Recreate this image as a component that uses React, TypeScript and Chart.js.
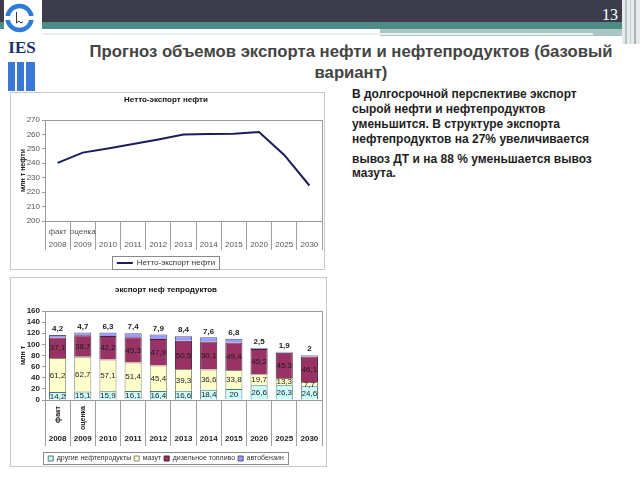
import React, { useEffect, useRef } from 'react';
import { Chart, registerables } from 'chart.js';

Chart.register(...registerables);

const FONT = '"Liberation Sans", Arial, sans-serif';

const years = ['2008', '2009', '2010', '2011', '2012', '2013', '2014', '2015', '2020', '2025', '2030'];
const yearNotes = ['факт', 'оценка', '', '', '', '', '', '', '', '', ''];

const netExport = [240.3, 247.4, 250.3, 253.3, 256.5, 259.9, 260.3, 260.5, 261.6, 245.8, 224.6];

const otherProducts = [14.2, 15.1, 15.9, 16.1, 16.4, 16.6, 18.4, 20, 26.6, 26.3, 24.6];
const fuelOil = [61.2, 62.7, 57.1, 51.4, 45.4, 39.3, 36.6, 33.8, 19.7, 13.3, 7.7];
const diesel = [37.1, 38.7, 42.2, 45.3, 47.9, 50.5, 50.1, 49.4, 45.2, 45.3, 46.1];
const gasoline = [4.2, 4.7, 6.3, 7.4, 7.9, 8.4, 7.6, 6.8, 2.5, 1.9, 2];

const seriesNames = ['другие нефтепродукты', 'мазут', 'дизельное топливо', 'автобензин'];

const textLines = [
  { t: 'В долгосрочной перспективе экспорт', y: 87 },
  { t: 'сырой нефти и нефтепродуктов', y: 102 },
  { t: 'уменьшится. В структуре экспорта', y: 117 },
  { t: 'нефтепродуктов на 27% увеличивается', y: 132 },
  { t: 'вывоз ДТ и на 88 % уменьшается вывоз', y: 152 },
  { t: 'мазута.', y: 166 },
];

const framePlugin = {
  id: 'frame',
  beforeDatasetsDraw(chart: any) {
    const { ctx, chartArea } = chart;
    ctx.save();
    ctx.strokeStyle = '#9a9a9a';
    ctx.lineWidth = 1;
    ctx.strokeRect(
      Math.round(chartArea.left) + 0.5,
      Math.round(chartArea.top) + 0.5,
      Math.round(chartArea.right - chartArea.left),
      Math.round(chartArea.bottom - chartArea.top)
    );
    ctx.restore();
  },
};

const legendBorderPlugin = {
  id: 'legendBorder',
  afterDraw(chart: any) {
    const boxes = chart.legend && chart.legend.legendHitBoxes;
    if (!boxes || !boxes.length) return;
    let l = Infinity, t = Infinity, r = -Infinity, b = -Infinity;
    boxes.forEach((h: any) => {
      l = Math.min(l, h.left);
      t = Math.min(t, h.top);
      r = Math.max(r, h.left + h.width);
      b = Math.max(b, h.top + h.height);
    });
    const ctx = chart.ctx;
    ctx.save();
    ctx.strokeStyle = '#8a8a8a';
    ctx.lineWidth = 1;
    ctx.strokeRect(Math.round(l - 5) + 0.5, Math.round(t - 3) + 0.5, Math.round(r - l + 9), Math.round(b - t + 5));
    ctx.restore();
  },
};

const lineCatsPlugin = {
  id: 'lineCats',
  afterDraw(chart: any) {
    const { ctx, chartArea } = chart;
    const xs = chart.scales.x;
    ctx.save();
    ctx.fillStyle = '#555';
    ctx.font = `8px ${FONT}`;
    ctx.textAlign = 'center';
    ctx.textBaseline = 'middle';
    years.forEach((yr, i) => {
      const x = xs.getPixelForValue(i);
      if (yearNotes[i]) ctx.fillText(yearNotes[i], x, chartArea.bottom + 11);
      ctx.fillText(yr, x, chartArea.bottom + 24);
    });
    ctx.restore();
  },
};

const barCatsPlugin = {
  id: 'barCats',
  afterDraw(chart: any) {
    const { ctx, chartArea } = chart;
    const xs = chart.scales.x;
    ctx.save();
    ctx.fillStyle = '#222';
    years.forEach((yr, i) => {
      const x = xs.getPixelForValue(i);
      if (yearNotes[i]) {
        ctx.save();
        ctx.font = `bold 7px ${FONT}`;
        ctx.translate(x, chartArea.bottom + 6);
        ctx.rotate(-Math.PI / 2);
        ctx.textAlign = 'right';
        ctx.textBaseline = 'middle';
        ctx.fillText(yearNotes[i], 0, 0);
        ctx.restore();
      }
      ctx.font = `bold 8px ${FONT}`;
      ctx.textAlign = 'center';
      ctx.textBaseline = 'middle';
      ctx.fillText(yr, x, chartArea.bottom + 39);
    });
    ctx.restore();
  },
};

const barLabelsPlugin = {
  id: 'barLabels',
  afterDatasetsDraw(chart: any) {
    const ctx = chart.ctx;
    ctx.save();
    ctx.textAlign = 'center';
    ctx.textBaseline = 'middle';
    chart.data.datasets.forEach((ds: any, di: number) => {
      const meta = chart.getDatasetMeta(di);
      meta.data.forEach((bar: any, i: number) => {
        const v = ds.data[i];
        const p = bar.getProps(['x', 'y', 'base'], true);
        const txt = String(v).replace('.', ',');
        if (di === 3) {
          ctx.font = `bold 8px ${FONT}`;
          ctx.fillStyle = '#222';
          ctx.fillText(txt, p.x, p.y - 6);
        } else {
          ctx.font = `8px ${FONT}`;
          ctx.fillStyle = '#1a1a1a';
          ctx.fillText(txt, p.x, (p.y + p.base) / 2 + 0.5);
        }
      });
    });
    ctx.restore();
  },
};

function LineChart() {
  const ref = useRef<HTMLCanvasElement>(null);
  useEffect(() => {
    if (!ref.current) return;
    const chart = new Chart(ref.current, {
      type: 'line',
      data: {
        labels: years,
        datasets: [
          {
            label: 'Нетто-экспорт нефти',
            data: netExport,
            borderColor: '#1c1c5c',
            backgroundColor: '#1c1c5c',
            borderWidth: 2,
            pointRadius: 0,
            tension: 0,
            fill: false,
          },
        ],
      },
      options: {
        animation: false,
        responsive: false,
        maintainAspectRatio: false,
        layout: { padding: { left: 0, right: 4, top: 0, bottom: 0 } },
        plugins: {
          title: {
            display: true,
            text: 'Нетто-экспорт нефти',
            color: '#111',
            font: { family: FONT, size: 8, weight: 'bold' },
            padding: { top: 3, bottom: 15.4 },
          },
          legend: {
            display: true,
            position: 'bottom',
            labels: {
              usePointStyle: true,
              pointStyle: 'line',
              pointStyleWidth: 16,
              color: '#333',
              font: { family: FONT, size: 8 },
              padding: 2,
            },
          },
          tooltip: { enabled: false },
        },
        scales: {
          x: {
            type: 'category',
            offset: true,
            grid: { offset: true, drawOnChartArea: false, drawTicks: true, tickLength: 29, color: '#a0a0a0' },
            border: { color: '#9a9a9a' },
            ticks: { display: false },
            afterFit: (s: any) => {
              s.height = 36;
            },
          },
          y: {
            min: 200,
            max: 270,
            ticks: { stepSize: 10, autoSkip: false, color: '#555', font: { family: FONT, size: 8 }, padding: 2 },
            grid: { drawOnChartArea: false, tickLength: 3, color: '#9a9a9a' },
            border: { color: '#9a9a9a' },
            title: {
              display: true,
              text: 'млн т нефти',
              color: '#222',
              font: { family: FONT, size: 7, weight: 'bold' },
              padding: { top: 9, bottom: 0 },
            },
            afterFit: (s: any) => {
              s.width = 35;
            },
          },
        },
      } as any,
      plugins: [framePlugin, lineCatsPlugin, legendBorderPlugin],
    });
    return () => chart.destroy();
  }, []);
  return <canvas ref={ref} width={316} height={185} style={{ position: 'absolute', left: 10, top: 92 }} />;
}

function BarChart() {
  const ref = useRef<HTMLCanvasElement>(null);
  useEffect(() => {
    if (!ref.current) return;
    const common = { barPercentage: 0.68, categoryPercentage: 1, borderWidth: 1 };
    const chart = new Chart(ref.current, {
      type: 'bar',
      data: {
        labels: years,
        datasets: [
          { label: seriesNames[0], data: otherProducts, backgroundColor: '#ccffff', borderColor: '#4f7474', ...common },
          { label: seriesNames[1], data: fuelOil, backgroundColor: '#ffffcc', borderColor: '#8a8a70', ...common },
          { label: seriesNames[2], data: diesel, backgroundColor: '#993366', borderColor: '#4a1f33', ...common },
          { label: seriesNames[3], data: gasoline, backgroundColor: '#9999ff', borderColor: '#55557a', ...common },
        ],
      },
      options: {
        animation: false,
        responsive: false,
        maintainAspectRatio: false,
        layout: { padding: { left: 0, right: 4, top: 0, bottom: 0 } },
        plugins: {
          title: {
            display: true,
            text: 'экспорт неф тепродуктов',
            color: '#111',
            font: { family: FONT, size: 8, weight: 'bold' },
            padding: { top: 9, bottom: 16.4 },
          },
          legend: {
            display: true,
            position: 'bottom',
            labels: {
              boxWidth: 5,
              boxHeight: 5,
              color: '#333',
              font: { family: FONT, size: 7 },
              padding: 3,
            },
          },
          tooltip: { enabled: false },
        },
        scales: {
          x: {
            stacked: true,
            offset: true,
            grid: { offset: true, drawOnChartArea: false, drawTicks: true, tickLength: 46, color: '#a0a0a0' },
            border: { color: '#9a9a9a' },
            ticks: { display: false },
            afterFit: (s: any) => {
              s.height = 52;
            },
          },
          y: {
            stacked: true,
            min: 0,
            max: 160,
            ticks: {
              stepSize: 20,
              autoSkip: false,
              color: '#222',
              font: { family: FONT, size: 8, weight: 'bold' },
              padding: 2,
            },
            grid: { drawOnChartArea: false, tickLength: 3, color: '#9a9a9a' },
            border: { color: '#9a9a9a' },
            title: {
              display: true,
              text: 'млн т',
              color: '#222',
              font: { family: FONT, size: 7, weight: 'bold' },
              padding: { top: 9, bottom: 0 },
            },
            afterFit: (s: any) => {
              s.width = 35;
            },
          },
        },
      } as any,
      plugins: [framePlugin, barLabelsPlugin, barCatsPlugin, legendBorderPlugin],
    });
    return () => chart.destroy();
  }, []);
  return <canvas ref={ref} width={316} height={196} style={{ position: 'absolute', left: 10, top: 276 }} />;
}

function Header() {
  return (
    <>
      <div style={{ position: 'absolute', left: 0, top: 0, width: 622, height: 22, background: '#3c3c4c' }} />
      <div style={{ position: 'absolute', left: 0, top: 22, width: 622, height: 7, background: '#4e8c88' }} />
      <div style={{ position: 'absolute', left: 380, top: 29, width: 242, height: 7, background: '#aac6c3' }} />
      <div style={{ position: 'absolute', left: 40, top: 33, width: 553, height: 2, background: '#e8f0ef' }} />
      <div style={{ position: 'absolute', left: 622, top: 0, width: 18, height: 44, background: '#e6eaea' }} />
      <div style={{ position: 'absolute', left: 625, top: 0, width: 2, height: 44, background: '#b8c2c2' }} />
      <div style={{ position: 'absolute', left: 630, top: 0, width: 1, height: 44, background: '#c8d0d0' }} />
      <div style={{ position: 'absolute', left: 634, top: 0, width: 2, height: 44, background: '#aab4b4' }} />
      <div
        style={{
          position: 'absolute',
          left: 602,
          top: 6,
          fontFamily: '"Liberation Serif", "DejaVu Serif", serif',
          fontSize: 16,
          color: '#fff',
          lineHeight: '18px',
        }}
      >
        13
      </div>
      <svg width={42} height={96} style={{ position: 'absolute', left: 0, top: 0 }}>
        <rect x={4} y={0} width={38} height={96} fill="#fff" />
        <circle cx={19.5} cy={18} r={12} fill="none" stroke="#2f7bd8" strokeWidth={4.5} />
        <rect x={4} y={16} width={7} height={4} fill="#fff" />
        <rect x={28} y={16} width={7} height={4} fill="#fff" />
        <path d="M16.5 12 L16.5 23 L19 21 L21 23 L23 22" stroke="#222" fill="none" strokeWidth={0.9} />
        <text
          x={22}
          y={53}
          textAnchor="middle"
          fontFamily='"Liberation Serif", "DejaVu Serif", serif'
          fontWeight="bold"
          fontSize={17}
          fill="#1c2f6b"
        >
          IES
        </text>
        <rect x={8} y={62} width={7} height={29} fill="#3a78d8" />
        <rect x={17} y={62} width={7} height={29} fill="#3a78d8" />
        <rect x={26} y={62} width={9} height={29} fill="#3a78d8" />
      </svg>
    </>
  );
}

export default function App() {
  return (
    <div
      style={{
        position: 'fixed',
        left: 0,
        top: 0,
        width: 640,
        height: 480,
        background: '#fff',
        overflow: 'hidden',
        fontFamily: FONT,
      }}
    >
      <Header />
      <div
        style={{
          position: 'absolute',
          left: 60,
          top: 41,
          width: 582,
          textAlign: 'center',
          fontSize: 16.7,
          fontWeight: 'bold',
          color: '#444',
          lineHeight: '21px',
        }}
      >
        Прогноз объемов экспорта нефти и нефтепродуктов (базовый
        <br />
        вариант)
      </div>
      {textLines.map((l, i) => (
        <div
          key={i}
          style={{
            position: 'absolute',
            left: 352,
            top: l.y,
            fontSize: 12,
            fontWeight: 'bold',
            color: '#1e1e1e',
            whiteSpace: 'nowrap',
            lineHeight: '15px',
          }}
        >
          {l.t}
        </div>
      ))}
      <div style={{ position: 'absolute', left: 10, top: 92, width: 315, height: 178, border: '1px solid #c8c8c8', boxSizing: 'border-box' }} />
      <div style={{ position: 'absolute', left: 10, top: 277, width: 317, height: 190, border: '1px solid #c8c8c8', boxSizing: 'border-box' }} />
      <LineChart />
      <BarChart />
    </div>
  );
}
